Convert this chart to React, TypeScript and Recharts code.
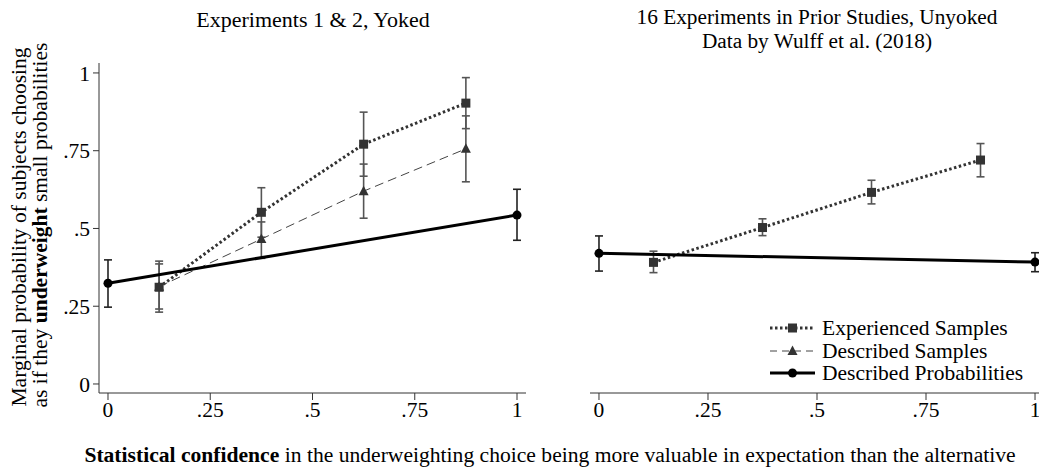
import React from 'react';
import { LineChart, Line, XAxis, YAxis, ErrorBar } from 'recharts';

// x positions (statistical confidence bins)
const sampleX = [0.125, 0.375, 0.625, 0.875];
const probX = [0, 1];

// left panel: Experiments 1 & 2, Yoked
const leftExperienced = [0.311, 0.552, 0.771, 0.903];
const leftExperiencedLo = [0.231, 0.472, 0.668, 0.821];
const leftExperiencedHi = [0.395, 0.631, 0.874, 0.985];
const leftDescribed = [0.313, 0.466, 0.62, 0.756];
const leftDescribedLo = [0.241, 0.404, 0.533, 0.65];
const leftDescribedHi = [0.386, 0.521, 0.707, 0.862];
const leftProb = [0.324, 0.543];
const leftProbLo = [0.247, 0.462];
const leftProbHi = [0.399, 0.626];

// right panel: 16 prior experiments (Wulff et al. 2018)
const rightExperienced = [0.391, 0.503, 0.616, 0.72];
const rightExperiencedLo = [0.358, 0.477, 0.579, 0.666];
const rightExperiencedHi = [0.427, 0.531, 0.655, 0.773];
const rightProb = [0.42, 0.392];
const rightProbLo = [0.363, 0.361];
const rightProbHi = [0.476, 0.422];

const xTicks = [0, 0.25, 0.5, 0.75, 1];
const yTicks = [0, 0.25, 0.5, 0.75, 1];

const FONT = '"Liberation Serif", "Times New Roman", serif';
const FS = 21.5;
const MARK = '#333';
const BAR = '#555';

const fmt = (v: number) => (v === 0 ? '0' : v === 1 ? '1' : String(v).replace(/^0/, ''));

const rows = (xs: number[], ys: number[], lo: number[], hi: number[]) =>
  xs.map((x, i) => ({ x, y: ys[i], err: [ys[i] - lo[i], hi[i] - ys[i]] }));

const Square = (props: any) => {
  const { cx, cy, index } = props;
  if (cx == null || cy == null) return <g key={index} />;
  return <rect key={index} x={cx - 4.5} y={cy - 4.5} width={9} height={9} fill={MARK} />;
};

const Triangle = (props: any) => {
  const { cx, cy, index } = props;
  if (cx == null || cy == null) return <g key={index} />;
  return <polygon key={index} points={`${cx},${cy - 5.5} ${cx - 5},${cy + 4} ${cx + 5},${cy + 4}`} fill={MARK} />;
};

const Circle = (props: any) => {
  const { cx, cy, index } = props;
  if (cx == null || cy == null) return <g key={index} />;
  return <circle key={index} cx={cx} cy={cy} r={4.5} fill="#000" />;
};

const tickStyle = { fill: '#000', fontSize: 21.5, fontFamily: FONT };
const axisLine = { stroke: '#333', strokeWidth: 1 };

const Panel: React.FC<{
  width: number;
  margin: { top: number; right: number; bottom: number; left: number };
  showY: boolean;
  xDomain: [number, number];
  experienced: ReturnType<typeof rows>;
  described?: ReturnType<typeof rows>;
  prob: ReturnType<typeof rows>;
}> = ({ width, margin, showY, xDomain, experienced, described, prob }) => (
  <LineChart width={width} height={469} margin={margin}>
    <XAxis
      type="number"
      dataKey="x"
      domain={xDomain}
      ticks={xTicks}
      tickFormatter={fmt}
      tick={tickStyle}
      tickSize={7}
      tickMargin={2}
      axisLine={axisLine}
      tickLine={axisLine}
      height={30}
      allowDataOverflow
    />
    <YAxis
      type="number"
      domain={[-0.029, 1.032]}
      ticks={yTicks}
      tickFormatter={fmt}
      tick={tickStyle}
      tickSize={6}
      tickMargin={3}
      axisLine={axisLine}
      tickLine={axisLine}
      width={40}
      hide={!showY}
      allowDataOverflow
    />
    <Line
      data={experienced}
      dataKey="y"
      type="linear"
      stroke={MARK}
      strokeWidth={3}
      strokeDasharray="2.5 2.5"
      dot={Square}
      activeDot={false}
      isAnimationActive={false}
    >
      <ErrorBar dataKey="err" width={4} stroke={BAR} strokeWidth={1.6} direction="y" />
    </Line>
    {described && (
      <Line
        data={described}
        dataKey="y"
        type="linear"
        stroke="#444"
        strokeWidth={1}
        strokeDasharray="9 5"
        dot={Triangle}
        activeDot={false}
        isAnimationActive={false}
      >
        <ErrorBar dataKey="err" width={4} stroke={BAR} strokeWidth={1.6} direction="y" />
      </Line>
    )}
    <Line
      data={prob}
      dataKey="y"
      type="linear"
      stroke="#000"
      strokeWidth={3}
      dot={Circle}
      activeDot={false}
      isAnimationActive={false}
    >
      <ErrorBar dataKey="err" width={4} stroke="#222" strokeWidth={1.6} direction="y" />
    </Line>
  </LineChart>
);

const LegendRow: React.FC<{ y: number; kind: 'exp' | 'desc' | 'prob'; label: string }> = ({ y, kind, label }) => (
  <g transform={`translate(770, ${y})`}>
    {kind === 'exp' && (
      <>
        <line x1={0} x2={45} y1={0} y2={0} stroke={MARK} strokeWidth={3} strokeDasharray="2.5 2.5" />
        <rect x={18} y={-4.5} width={9} height={9} fill={MARK} />
      </>
    )}
    {kind === 'desc' && (
      <>
        <line x1={0} x2={45} y1={0} y2={0} stroke="#444" strokeWidth={1} strokeDasharray="7 5" />
        <polygon points="22.5,-5.5 17.5,4 27.5,4" fill={MARK} />
      </>
    )}
    {kind === 'prob' && (
      <>
        <line x1={0} x2={45} y1={0} y2={0} stroke="#000" strokeWidth={3} />
        <circle cx={22.5} cy={0} r={4.5} fill="#000" />
      </>
    )}
    <text x={52} y={7} fontSize={FS} fontFamily={FONT} fill="#000">
      {label}
    </text>
  </g>
);

export default function App() {
  return (
    <div
      style={{
        position: 'absolute',
        left: 0,
        top: 0,
        width: 1039,
        height: 469,
        overflow: 'hidden',
        background: '#fff',
        fontFamily: FONT,
      }}
    >
      <div style={{ position: 'absolute', left: 0, top: 0 }}>
        <Panel
          width={540}
          margin={{ top: 63, right: 14, bottom: 46, left: 59 }}
          showY
          xDomain={[-0.022, 1.022]}
          experienced={rows(sampleX, leftExperienced, leftExperiencedLo, leftExperiencedHi)}
          described={rows(sampleX, leftDescribed, leftDescribedLo, leftDescribedHi)}
          prob={rows(probX, leftProb, leftProbLo, leftProbHi)}
        />
      </div>
      <div style={{ position: 'absolute', left: 560, top: 0 }}>
        <Panel
          width={490}
          margin={{ top: 63, right: 6, bottom: 46, left: 30 }}
          showY={false}
          xDomain={[-0.0206, 1.0206]}
          experienced={rows(sampleX, rightExperienced, rightExperiencedLo, rightExperiencedHi)}
          prob={rows(probX, rightProb, rightProbLo, rightProbHi)}
        />
      </div>
      <svg
        width={1039}
        height={469}
        style={{ position: 'absolute', left: 0, top: 0, pointerEvents: 'none' }}
        fontFamily={FONT}
        fontSize={FS}
      >
        <text x={313} y={27} textAnchor="middle" fontSize={22}>Experiments 1 &amp; 2, Yoked</text>
        <text textAnchor="middle" fontSize={21.3}>
          <tspan x={817} y={24}>16 Experiments in Prior Studies, Unyoked</tspan>
          <tspan x={817} y={48}>Data by Wulff et al. (2018)</tspan>
        </text>
        <text transform="translate(26, 227) rotate(-90)" textAnchor="middle">
          Marginal probability of subjects choosing
        </text>
        <text transform="translate(47, 225) rotate(-90)" textAnchor="middle">
          as if they <tspan fontWeight="bold">underweight</tspan> small probabilities
        </text>
        <text x={550} y={462} textAnchor="middle" fontSize={21.6}>
          <tspan fontWeight="bold">Statistical confidence</tspan> in the underweighting choice being more valuable in
          expectation than the alternative
        </text>
        <LegendRow y={328} kind="exp" label="Experienced Samples" />
        <LegendRow y={351} kind="desc" label="Described Samples" />
        <LegendRow y={373} kind="prob" label="Described Probabilities" />
      </svg>
    </div>
  );
}
